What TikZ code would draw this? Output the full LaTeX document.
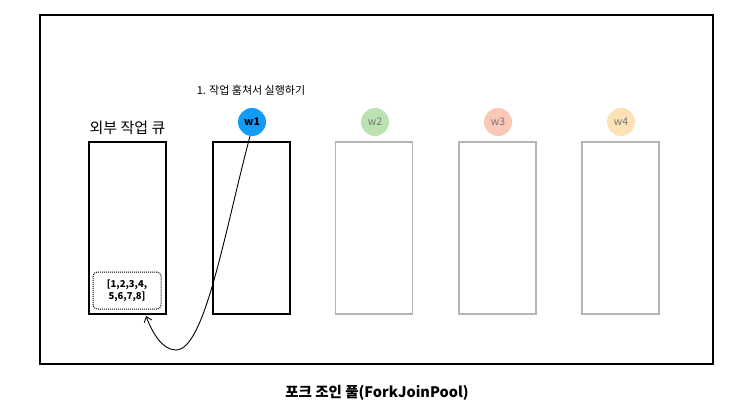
\documentclass[tikz,border=0pt]{standalone}
\usepackage{fontspec}
\setmainfont{Noto Sans CJK KR}
\usetikzlibrary{arrows.meta}
\definecolor{wblue}{RGB}{20,155,245}
\definecolor{wgreen}{RGB}{188,226,178}
\definecolor{wred}{RGB}{250,200,182}
\definecolor{wyellow}{RGB}{252,226,180}
\definecolor{boxgray}{RGB}{180,180,180}
\definecolor{txtgray}{RGB}{120,120,120}
\tikzset{
  qbox/.style={draw=black, line width=1.6pt, minimum width=77pt, minimum height=172pt, inner sep=0pt},
  gbox/.style={draw=boxgray, line width=1.6pt, minimum width=77pt, minimum height=172pt, inner sep=0pt},
  worker/.style={circle, minimum size=28pt, inner sep=0pt, font=\fontsize{10.5}{11}\selectfont\bfseries},
  gworker/.style={worker, text=txtgray, font=\fontsize{10.5}{11}\selectfont},
  lbl/.style={font=\fontsize{11}{13}\selectfont, inner sep=0pt}
}
\begin{document}
\begin{tikzpicture}[x=1pt,y=-1pt]
\useasboundingbox (0,0) rectangle (755,410);
\node[draw=black, line width=1.6pt, minimum width=673pt, minimum height=349pt, inner sep=0pt] (frame) at (376.5,189.5) {};
\node[qbox] (queue) at (127.5,228) {};
\node[qbox] (b1) at (251.5,228) {};
\node[gbox] (b2) at (374,228) {};
\node[gbox] (b3) at (497.5,228) {};
\node[gbox] (b4) at (620.5,228) {};
\node[worker, fill=wblue, text=black] (w1) at (252,122) {w1};
\node[gworker, fill=wgreen] (w2) at (375,122) {w2};
\node[gworker, fill=wred] (w3) at (498,122) {w3};
\node[gworker, fill=wyellow] (w4) at (621,122) {w4};
\node[font=\fontsize{15}{17}\selectfont, inner sep=0pt] (qlabel) at (127.5,128) {외부 작업 큐};
\node[lbl] (steal) at (251,90) {1. 작업 훔쳐서 실행하기};
\node[draw=black, densely dotted, line width=1pt, rounded corners=4pt, minimum width=68pt, minimum height=37pt, inner sep=0pt, align=center, font=\fontsize{9.5}{12}\selectfont\bfseries] (tasks) at (127,290.5) {[1,2,3,4,\\5,6,7,8]};
\node[font=\fontsize{14.5}{16}\selectfont\bfseries, inner sep=0pt] (caption) at (377,393) {포크 조인 풀(ForkJoinPool)};
\coordinate (low) at (176,350);
\coordinate (tip) at (146,316);
\draw[line width=0.9pt, -{Straight Barb[length=5pt,width=8pt]}] (w1.262) .. controls (225,230) and (205,350) .. (low) .. controls (162,350) and (152,332) .. (tip);
\end{tikzpicture}
\end{document}
